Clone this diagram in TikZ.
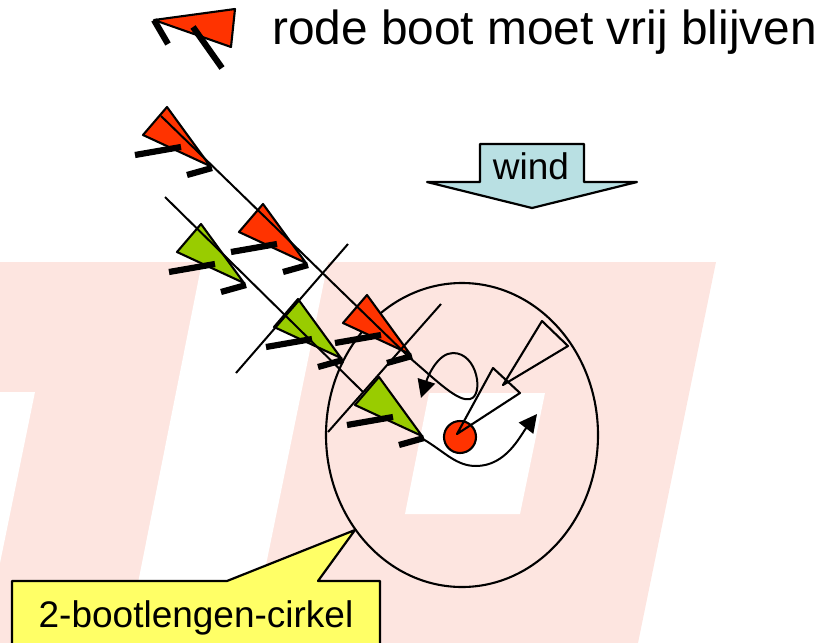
\documentclass[tikz,border=0pt]{standalone}
\usepackage{fontspec}
\setmainfont{Liberation Sans}
\usetikzlibrary{arrows.meta}
\definecolor{bootrood}{HTML}{FF3300}
\definecolor{bootgroen}{HTML}{99CC00}
\definecolor{roze}{HTML}{FDE5E0}
\definecolor{windblauw}{HTML}{B9E0E3}
\definecolor{geel}{HTML}{FFFF66}
\tikzset{
  romp/.style={draw=black,line width=2.1pt,line join=round},
  zwaard/.style={draw=black,line width=6.2pt},
  dun/.style={draw=black,line width=2pt},
  pijl/.style={dun,-{Triangle[length=18pt,width=18pt]}},
  omtrek/.style={draw=black,line width=2.1pt,line join=round}
}
\newcommand{\bootje}[3]{%
  \begin{scope}[shift={(#1,#2)}]
    \fill[#3,romp] (167,107) -- (143,135) -- (210,166) -- cycle;
    \draw[zwaard] (135,155) -- (181,147);
    \draw[zwaard] (187,175) -- (212,168);
  \end{scope}}
\begin{document}
\begin{tikzpicture}[x=1pt,y=-1pt]
\useasboundingbox (0,0) rectangle (836,643);
% watermark
\fill[roze] (0,262) -- (716,262) -- (638,643) -- (0,643) -- cycle;
\fill[white] (0,392) -- (35,392) -- (0,563) -- cycle;
\fill[white] (202,262) -- (328,262) -- (250,643) -- (126,643) -- cycle;
\fill[white] (429,393) -- (545,393) -- (520,514) -- (405,514) -- cycle;
% circle
\draw[line width=2.1pt] (462,435) ellipse [x radius=136,y radius=152];
% legend boat
\fill[bootrood,romp] (154,20) -- (235,9) -- (231,47) -- cycle;
\draw[zwaard] (154,20) -- (168,44);
\draw[zwaard] (193,27) -- (222,68);
\node[anchor=base west,inner sep=0pt,font=\fontsize{47.8}{50}\selectfont] (legenda) at (272,44) {rode boot moet vrij blijven};
% wind arrow
\fill[windblauw,draw=black,line width=2.2pt,line join=round]
  (480,144) -- (584,144) -- (584,182) -- (637,182) -- (532,208) -- (427,182) -- (480,182) -- cycle;
\node[anchor=base,inner sep=0pt,font=\fontsize{37}{40}\selectfont] (wind) at (531,179) {wind};
% boats
\bootje{0}{0}{bootrood}
\bootje{96}{97}{bootrood}
\bootje{200}{188}{bootrood}
\bootje{34}{117}{bootgroen}
\bootje{131}{192}{bootgroen}
\bootje{212}{270}{bootgroen}
% mark
\fill[bootrood,draw=black,line width=2.1pt] (460,437) circle [radius=16];
% courses
\coordinate (ra) at (161,116);
\coordinate (rb) at (410,358);
\coordinate (rc) at (421,398);
\coordinate (ga) at (165,197);
\coordinate (gb) at (363,392);
\coordinate (gc) at (423,439);
\coordinate (gd) at (537,414);
\coordinate (la) at (348,244);
\coordinate (lb) at (236,373);
\coordinate (lc) at (441,304);
\coordinate (ld) at (328,432);
\draw[pijl] (ra) -- (rb) .. controls (438,382) and (458,402) .. (470,399)
  .. controls (484,396) and (478,353) .. (453,353)
  .. controls (438,353) and (428,376) .. (rc);
\draw[dun] (ga) -- (gb);
\draw[pijl] (gc) .. controls (445,452) and (456,466) .. (476,466)
  .. controls (506,466) and (520,436) .. (gd);
\draw[dun] (la) -- (lb);
\draw[dun] (lc) -- (ld);
% outlined boats
\draw[omtrek] (457,434) -- (493,368) -- (520,393) -- cycle;
\draw[omtrek] (503,385) -- (542,321) -- (568,346) -- cycle;
% callout
\fill[geel,draw=black,line width=2.2pt,line join=round]
  (12,581) -- (227,581) -- (355,530) -- (318,581) -- (380,581) -- (380,660) -- (12,660) -- cycle;
\node[anchor=base,inner sep=0pt,font=\fontsize{37}{40}\selectfont] (cirkel) at (196,627) {2-bootlengen-cirkel};
\end{tikzpicture}
\end{document}
